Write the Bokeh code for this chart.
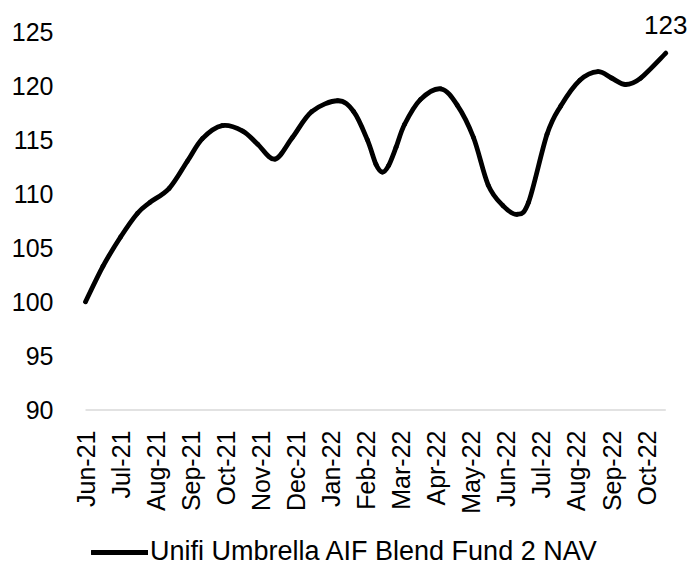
import math
import calendar
import numpy as np
from bokeh.plotting import figure
from bokeh.layouts import column
from bokeh.models import FixedTicker, Legend, LegendItem, Range1d, ColumnDataSource
from bokeh.core.properties import value
from bokeh.embed import file_html
from bokeh.resources import INLINE

# ---- data ----
dates = [
    "2021-06-01", "2021-06-16", "2021-07-01", "2021-07-16", "2021-07-27",
    "2021-08-13", "2021-08-29", "2021-09-11", "2021-09-28", "2021-10-16",
    "2021-10-29", "2021-11-13", "2021-11-28", "2021-12-15", "2022-01-07",
    "2022-01-21", "2022-02-02", "2022-02-09", "2022-02-14", "2022-02-19",
    "2022-02-25", "2022-03-04", "2022-03-18", "2022-04-05", "2022-04-19",
    "2022-05-03", "2022-05-16", "2022-05-29", "2022-06-10", "2022-06-20",
    "2022-07-06", "2022-07-18", "2022-08-04", "2022-08-20", "2022-09-01",
    "2022-09-13", "2022-09-26", "2022-10-18",
]
nav = [
    100.0, 103.3, 106.0, 108.2, 109.2,
    110.5, 113.0, 115.1, 116.3, 115.8,
    114.6, 113.2, 115.2, 117.6, 118.6,
    117.6, 115.0, 112.7, 112.0, 112.6,
    114.3, 116.4, 118.7, 119.7, 118.2,
    115.2, 110.8, 108.9, 108.1, 109.2,
    115.5, 118.1, 120.5, 121.3, 120.7,
    120.1, 120.7, 123.0,
]
month_labels = ["Jun-21", "Jul-21", "Aug-21", "Sep-21", "Oct-21", "Nov-21",
                "Dec-21", "Jan-22", "Feb-22", "Mar-22", "Apr-22", "May-22",
                "Jun-22", "Jul-22", "Aug-22", "Sep-22", "Oct-22"]
y_ticks = [90, 95, 100, 105, 110, 115, 120, 125]
series_name = "Unifi Umbrella AIF Blend Fund 2 NAV"
end_label = "123"

FONT = "Liberation Sans"


def month_pos(s):
    yy, mo, dd = map(int, s.split("-"))
    return (yy - 2021) * 12 + (mo - 6) + (dd - 1) / calendar.monthrange(yy, mo)[1]


x = np.array([month_pos(d) for d in dates])
y = np.array(nav, dtype=float)

# smooth (Catmull-Rom) rendering via Bezier segments
n = len(x)
x0, y0, x1, y1, cx0, cy0, cx1, cy1 = [], [], [], [], [], [], [], []
for i in range(n - 1):
    a = max(i - 1, 0)
    b = min(i + 2, n - 1)
    x0.append(x[i]); y0.append(y[i]); x1.append(x[i + 1]); y1.append(y[i + 1])
    cx0.append(x[i] + (x[i + 1] - x[a]) / 6.0)
    cy0.append(y[i] + (y[i + 1] - y[a]) / 6.0)
    cx1.append(x[i + 1] - (x[b] - x[i]) / 6.0)
    cy1.append(y[i + 1] - (y[b] - y[i]) / 6.0)
bez = ColumnDataSource(dict(x0=x0, y0=y0, x1=x1, y1=y1, cx0=cx0, cy0=cy0, cx1=cx1, cy1=cy1))

# ---- main chart ----
p = figure(width=689, height=516,
           x_range=Range1d(-0.1426, 17.224), y_range=Range1d(89.49, 127.87),
           output_backend="svg", toolbar_location=None,
           min_border_left=80, min_border_right=0, min_border_top=0, min_border_bottom=98)
p.outline_line_color = None
p.xgrid.visible = False
p.ygrid.visible = False
p.background_fill_color = "white"
p.border_fill_color = "white"

# baseline at the bottom value
p.segment(x0=[x[0]], y0=[y_ticks[0]], x1=[x[-1]], y1=[y_ticks[0]],
          line_color="#d9d9d9", line_width=1.5)

p.bezier(x0="x0", y0="y0", x1="x1", y1="y1", cx0="cx0", cy0="cy0", cx1="cx1", cy1="cy1",
         source=bez, line_color="black", line_width=4.8, line_cap="round")

p.text(x=[x[-1]], y=[y[-1]], text=[end_label], text_align="center", text_baseline="bottom",
       y_offset=-19, text_font=value(FONT), text_font_size="26px", text_color="black")

p.xaxis.ticker = FixedTicker(ticks=list(range(len(month_labels))))
p.xaxis.major_label_overrides = {i: lab for i, lab in enumerate(month_labels)}
p.xaxis.major_label_orientation = math.pi / 2
p.xaxis.major_label_standoff = 15
p.yaxis.ticker = FixedTicker(ticks=y_ticks)
p.yaxis.major_label_standoff = 27
for ax in (p.xaxis, p.yaxis):
    ax.axis_line_color = None
    ax.major_tick_line_color = None
    ax.minor_tick_line_color = None
    ax.major_tick_out = 0
    ax.major_tick_in = 0
    ax.major_label_text_font = FONT
    ax.major_label_text_font_size = "25px"
    ax.major_label_text_color = "black"

# ---- legend strip below ----
lg = figure(width=689, height=51, x_axis_type=None, y_axis_type=None,
            output_backend="svg", toolbar_location=None,
            min_border_left=0, min_border_right=0, min_border_top=0, min_border_bottom=0)
lg.outline_line_color = None
lg.xgrid.visible = False
lg.ygrid.visible = False
legend_line = lg.line(x, y, line_color="black", line_width=4.8, line_cap="round", visible=False)
legend = Legend(items=[LegendItem(label=series_name, renderers=[legend_line])],
                location=(11, 0), orientation="horizontal",
                padding=0, margin=0, spacing=0,
                glyph_width=57, glyph_height=26, label_standoff=2, label_height=26,
                label_text_font=FONT, label_text_font_size="27px", label_text_color="black",
                border_line_color=None, background_fill_alpha=0, inactive_fill_alpha=0)
lg.add_layout(legend, "center")

layout = column(p, lg, spacing=0)
open("out.html", "w").write(file_html(layout, INLINE))
